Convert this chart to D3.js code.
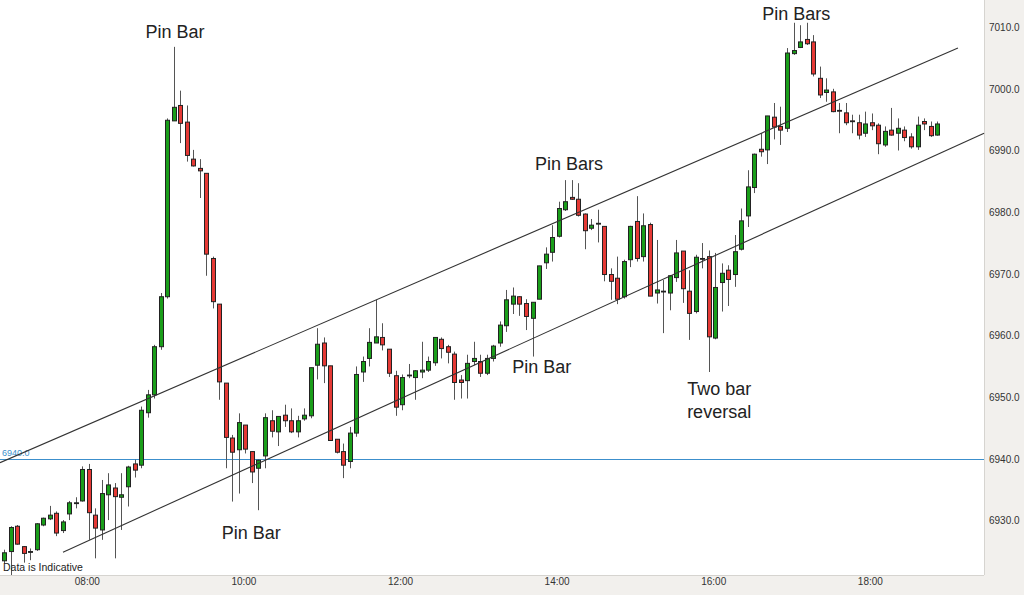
<!DOCTYPE html>
<html><head><meta charset="utf-8">
<script src="https://cdn.jsdelivr.net/npm/d3@7"></script>
<style>html,body{margin:0;padding:0;background:#fff;}svg{display:block;}</style>
</head><body><svg id="c" width="1024" height="595"></svg>
<script>
// 5-minute candles starting 06:55
const startTime = "06:55";
const intervalMin = 5;
const opens = [6923.5,6925.0,6929.1,6925.8,6925.0,6925.3,6929.3,6930.3,6931.2,6928.4,6931.1,6932.9,6933.2,6938.3,6930.9,6928.5,6934.2,6935.3,6933.8,6935.5,
6939.2,6939.0,6947.5,6950.4,6958.2,6966.3,6994.8,6997.3,6994.6,6988.6,6987.1,6986.3,6972.5,6965.1,6952.3,6943.4,6941.5,6945.5,6941.2,6938.5,
6940.5,6946.2,6944.4,6947.1,6946.2,6944.4,6946.5,6947.0,6955.2,6958.8,6955.1,6943.2,6941.2,6939.6,6944.2,6954.1,6956.3,6958.8,6959.7,6957.8,
6953.5,6948.8,6953.6,6953.2,6954.1,6954.4,6955.6,6959.4,6958.2,6957.0,6952.8,6952.7,6955.8,6955.8,6953.9,6956.3,6958.8,6961.6,6965.1,6966.3,
6965.2,6962.8,6965.9,6971.8,6973.5,6976.1,6980.4,6982.4,6982.1,6979.7,6977.4,6978.1,6977.7,6969.9,6969.3,6966.3,6972.3,6978.5,6972.8,6978.0,
6966.9,6967.2,6966.9,6969.4,6973.7,6967.2,6963.9,6972.5,6972.8,6959.6,6968.6,6970.6,6969.9,6974.0,6979.4,6984.0,6990.2,6990.1,6995.4,6993.9,
6993.6,7005.7,7006.7,7008.0,7007.6,7001.7,6999.4,6999.5,6996.5,6996.1,6994.8,6994.5,6992.8,6994.5,6994.1,6990.9,6993.3,6992.8,6993.3,6992.2,
6990.6,6994.7,6993.9,6992.5];
const highs = [6925.3,6929.1,6929.3,6925.9,6925.5,6929.6,6930.5,6932.4,6931.5,6930.1,6933.2,6933.8,6938.8,6939.2,6932.0,6936.6,6937.7,6936.1,6937.7,6938.9,
6939.9,6948.5,6951.2,6958.5,6966.9,6995.2,7006.8,6999.7,6997.3,6990.1,6988.6,6986.3,6972.8,6965.1,6952.3,6943.9,6947.4,6945.5,6941.2,6939.9,
6947.4,6947.9,6946.9,6948.8,6948.2,6947.0,6948.2,6954.8,6961.2,6959.7,6955.1,6943.2,6942.5,6945.2,6955.0,6956.6,6961.2,6965.8,6962.0,6957.8,
6954.3,6953.7,6955.4,6954.4,6959.0,6956.6,6959.7,6959.7,6958.5,6957.4,6953.6,6956.9,6959.0,6956.9,6956.9,6958.5,6962.3,6967.4,6967.8,6966.4,
6965.9,6965.4,6971.3,6974.3,6977.9,6981.7,6985.2,6985.2,6984.7,6979.8,6978.9,6980.4,6977.7,6970.9,6972.8,6972.3,6977.8,6982.6,6979.8,6978.3,
6975.5,6969.0,6969.8,6975.5,6973.7,6970.6,6973.1,6975.0,6973.8,6973.4,6971.7,6971.4,6976.3,6980.6,6986.8,6989.5,6992.8,6995.6,6997.7,6997.1,
7006.6,7010.7,7010.3,7010.7,7008.7,7003.6,7001.7,7000.0,6997.7,6997.7,6995.8,6995.8,6996.3,6996.0,6994.4,6993.9,6996.9,6995.2,6993.9,6992.8,
6995.5,6995.2,6994.7,6994.7];
const lows = [6923.1,6921.2,6926.1,6923.2,6923.6,6925.1,6929.1,6930.1,6927.5,6928.0,6930.1,6932.0,6933.1,6926.9,6923.9,6926.9,6930.1,6923.9,6928.5,6932.3,
6937.0,6938.5,6946.7,6949.8,6957.7,6966.0,6994.8,6991.2,6988.2,6987.4,6982.3,6969.7,6964.4,6949.6,6938.5,6933.1,6934.4,6940.9,6936.1,6931.7,
6938.5,6943.5,6942.1,6945.2,6944.2,6943.5,6946.2,6946.6,6952.9,6952.3,6943.0,6940.9,6936.9,6938.5,6943.6,6952.5,6955.0,6958.8,6957.6,6953.3,
6947.0,6947.9,6953.1,6949.6,6953.1,6954.1,6955.1,6956.3,6955.5,6949.6,6949.8,6949.8,6955.2,6953.3,6953.6,6955.8,6958.2,6960.6,6963.5,6963.2,
6960.9,6956.6,6965.9,6970.8,6972.0,6975.9,6980.2,6982.0,6979.3,6974.0,6977.1,6975.1,6968.8,6965.8,6965.1,6966.0,6971.1,6972.0,6972.0,6966.4,
6965.2,6960.4,6964.1,6968.7,6965.3,6959.3,6963.6,6970.9,6954.1,6959.4,6963.9,6964.8,6967.9,6973.8,6977.6,6983.1,6989.0,6987.8,6991.8,6990.9,
6993.0,7005.5,7006.6,7007.1,7002.0,6998.5,6997.9,6996.2,6992.8,6994.1,6992.8,6991.8,6992.2,6993.3,6989.4,6990.6,6992.4,6990.0,6991.5,6990.3,
6990.1,6993.3,6992.2,6992.4];
const closes = [6924.8,6928.9,6926.2,6924.7,6925.0,6929.5,6930.4,6930.9,6928.0,6929.8,6932.9,6932.9,6938.3,6931.3,6928.8,6934.4,6935.8,6933.9,6934.2,6938.7,
6938.2,6947.9,6950.4,6958.2,6966.3,6994.9,6997.0,6994.4,6989.2,6987.5,6986.7,6973.2,6965.5,6952.5,6943.5,6941.1,6945.9,6941.6,6937.9,6939.8,
6946.7,6944.5,6946.9,6946.2,6944.4,6946.2,6947.1,6954.8,6958.6,6955.1,6943.0,6941.1,6939.0,6944.2,6953.7,6955.8,6958.9,6959.8,6958.5,6953.9,
6948.4,6953.2,6953.6,6954.3,6954.4,6955.8,6959.7,6957.9,6957.3,6952.4,6952.4,6955.5,6956.3,6953.9,6956.3,6958.3,6961.7,6965.8,6966.4,6965.1,
6963.1,6965.4,6971.3,6973.2,6975.9,6980.6,6981.7,6982.1,6979.5,6977.0,6977.9,6978.2,6969.9,6968.8,6965.9,6972.0,6977.7,6972.5,6977.8,6966.4,
6967.4,6967.2,6969.7,6973.4,6967.6,6963.6,6972.7,6972.5,6959.8,6967.8,6970.1,6969.1,6973.6,6978.6,6984.1,6989.4,6989.8,6995.6,6993.8,6993.3,
7005.8,7006.2,7007.6,7007.3,7002.4,6999.0,6999.8,6996.3,6996.4,6994.5,6994.7,6992.5,6994.3,6994.0,6991.1,6993.1,6992.5,6993.6,6992.1,6990.6,
6994.1,6994.3,6992.4,6994.3];
const yTicks = [6930,6940,6950,6960,6970,6980,6990,7000,7010];
const xTickLabels = ["08:00","10:00","12:00","14:00","16:00","18:00"];
const refLevel = 6940;
// channel lines: [candle index, price]
const upperChannel = [[-0.61,6939.4],[146.2,7006.6]];
const lowerChannel = [[9.04,6924.9],[150.2,6992.8]];
// annotations: [candle index, price at baseline, text]
const notes = [[26.2,7008.3,"Pin Bar"],[37.9,6927.1,"Pin Bar"],[86.6,6986.9,"Pin Bars"],[82.4,6953.9,"Pin Bar"],
  [109.6,6950.3,"Two bar"],[109.6,6946.7,"reversal"],[121.4,7011.2,"Pin Bars"]];

const svg = d3.select("#c");
const W=1024,H=595, PR=984, PB=575;
const parse = d3.timeParse("%H:%M");
const t0 = parse(startTime);
const times = opens.map((d,i)=> new Date(+t0 + i*intervalMin*60000));
const tAt = i => new Date(+t0 + i*intervalMin*60000);
const x = d3.scaleTime().domain([tAt(-0.613), tAt(150.19)]).range([0,PR]);
const y = d3.scaleLinear().domain([6940,7010]).range([459,27.1]);

svg.append("rect").attr("width",W).attr("height",H).attr("fill","#f2f0ed");
svg.append("rect").attr("x",0).attr("y",0).attr("width",PR).attr("height",PB).attr("fill","#fff");
svg.append("line").attr("x1",PR+0.5).attr("x2",PR+0.5).attr("y1",0).attr("y2",PB).attr("stroke","#d6d4d0");
svg.append("line").attr("x1",0).attr("x2",PR).attr("y1",PB+0.5).attr("y2",PB+0.5).attr("stroke","#d6d4d0");

// y axis labels
const yAxis = d3.axisRight(y).tickValues(yTicks).tickFormat(d3.format(".1f")).tickSize(0).tickPadding(0);
const ga = svg.append("g").attr("transform",`translate(${PR+5},0)`).call(yAxis);
ga.select(".domain").remove();
ga.selectAll("text").attr("font-family","Liberation Sans, Arial, sans-serif").attr("font-size",10).attr("fill","#333");

// x axis labels
const xTicks = xTickLabels.map(s=>parse(s));
const xAxis = d3.axisBottom(x).tickValues(xTicks).tickFormat(d3.timeFormat("%H:%M")).tickSize(0).tickPadding(0);
const gx = svg.append("g").attr("transform",`translate(-2,${PB+3})`).call(xAxis);
gx.select(".domain").remove();
gx.selectAll("text").attr("font-family","Liberation Sans, Arial, sans-serif").attr("font-size",10).attr("fill","#333");

// reference line
svg.append("line").attr("x1",0).attr("x2",PR).attr("y1",Math.round(y(refLevel))+0.5).attr("y2",Math.round(y(refLevel))+0.5)
  .attr("stroke","#3c8fcc").attr("stroke-width",1);
svg.append("text").attr("x",2).attr("y",y(refLevel)-3).text(d3.format(".1f")(refLevel))
  .attr("font-family","Liberation Sans, Arial, sans-serif").attr("font-size",9).attr("fill","#3c8fcc");

// candles
const data = opens.map((o,i)=>({t:times[i],o,h:highs[i],l:lows[i],c:closes[i]}));
const g = svg.append("g");
const cx = d => Math.round(x(d.t))+0.5;
g.selectAll("line.w").data(data).join("line").attr("class","w")
  .attr("x1",cx).attr("x2",cx).attr("y1",d=>y(d.h)).attr("y2",d=>y(d.l))
  .attr("stroke","#555").attr("stroke-width",1);
g.selectAll("rect.b").data(data).join("rect").attr("class","b")
  .attr("x",d=>cx(d)-2).attr("width",4)
  .attr("y",d=>y(Math.max(d.o,d.c)))
  .attr("height",d=>Math.max(0.8,Math.abs(y(d.o)-y(d.c))))
  .attr("fill",d=>d.c>d.o?"#1a9e1a":(d.c<d.o?"#e53935":"#222"))
  .attr("stroke","#222").attr("stroke-width",1);

// channel lines
const idxX = i => x(tAt(i));
[upperChannel,lowerChannel].forEach(ln=>{
  svg.append("line").attr("x1",idxX(ln[0][0])).attr("y1",y(ln[0][1])).attr("x2",idxX(ln[1][0])).attr("y2",y(ln[1][1]))
    .attr("stroke","#333").attr("stroke-width",1.1);
});

// annotations
svg.selectAll("text.n").data(notes).join("text").attr("class","n")
  .attr("x",d=>idxX(d[0])).attr("y",d=>y(d[1])).attr("text-anchor","middle")
  .attr("font-family","Liberation Sans, Arial, sans-serif").attr("font-size",18).attr("fill","#222").text(d=>d[2]);

svg.append("text").attr("x",3).attr("y",571).text("Data is Indicative")
  .attr("font-family","Liberation Sans, Arial, sans-serif").attr("font-size",10.5).attr("fill","#222");
</script></body></html>
